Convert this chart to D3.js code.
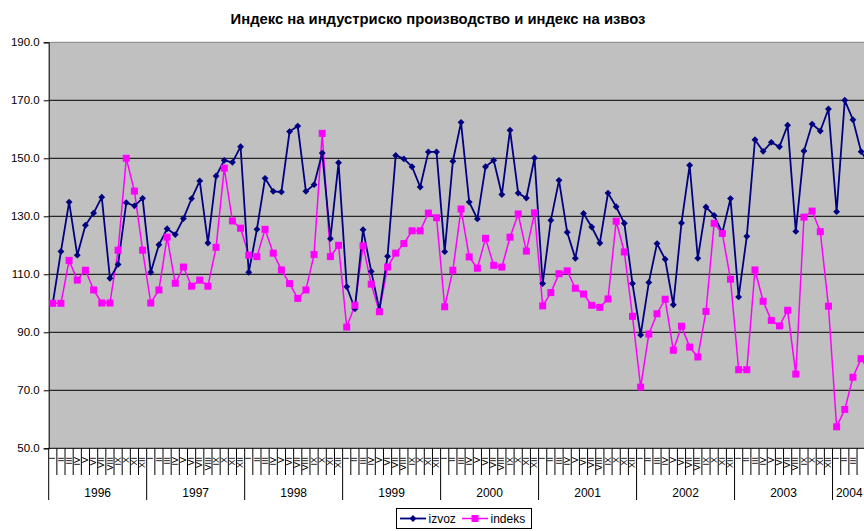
<!DOCTYPE html>
<html><head><meta charset="utf-8">
<script src="https://cdn.jsdelivr.net/npm/d3@7"></script>
<style>body{margin:0;background:#fff}svg{display:block}text{font-family:Arial,"Liberation Sans",sans-serif}</style>
</head><body><svg id="c" width="864" height="531"></svg>
<script>
const title = "Индекс на индустриско производство и индекс на извоз";
const years = ["1996","1997","1998","1999","2000","2001","2002","2003","2004"];
const monthLabels = ["I","II","III","IV","V","VI","VII","VIII","IX","X","XI","XII"];
const monthsIn2004 = 5;
const izvoz = [
 100.0,117.9,134.9,116.6,126.9,131.1,136.6,108.6,113.4,134.7,133.6,136.2,
 110.7,120.2,125.7,123.7,129.2,136.1,142.2,120.8,143.9,149.3,148.6,154.0,
 110.7,125.5,143.1,138.6,138.4,159.2,161.1,138.6,140.9,151.8,122.3,148.5,
 105.7,98.1,125.4,111.0,97.9,116.2,151.0,149.8,147.1,140.1,152.2,152.2,
 117.8,149.0,162.4,134.9,129.1,147.1,149.3,137.5,159.7,138.0,136.3,150.1,
 106.8,128.6,142.4,124.5,115.5,131.0,126.3,120.8,138.0,133.3,127.6,106.8,
 89.1,107.2,120.6,115.2,99.5,127.7,147.6,115.5,133.2,130.3,124.3,136.1,
 102.2,123.1,156.4,152.4,155.5,154.0,161.4,124.8,152.5,161.8,159.4,167.0,
 131.6,170.0,163.3,152.3,148.0
];
const indeks = [
 100.0,100.0,114.8,108.0,111.4,104.6,100.1,100.1,118.3,150.0,138.7,118.3,
 100.1,104.6,122.8,106.9,112.5,105.9,108.0,105.9,119.3,146.6,128.4,125.9,
 116.6,116.1,125.5,117.3,111.5,106.8,101.7,104.6,116.8,158.6,116.1,120.0,
 91.8,99.3,119.8,106.6,97.1,112.5,117.3,120.6,125.0,125.0,131.1,129.5,
 98.8,111.4,132.5,116.0,112.1,122.4,113.1,112.5,122.8,130.8,118.0,131.2,
 99.1,103.7,110.2,111.2,105.2,103.2,99.3,98.6,101.5,128.3,117.7,95.5,
 71.1,89.4,96.4,101.4,83.8,92.1,84.9,81.5,97.2,127.6,124.1,108.3,
 77.1,77.1,111.5,100.7,94.1,92.2,97.6,75.6,129.7,131.8,124.7,99.0,
 57.4,63.4,74.5,80.9,76.5
];
const yTicks = [50,70,90,110,130,150,170,190];

// categories
const cats = [];
years.forEach((yr,yi)=>{
  const n = yi===years.length-1 ? monthsIn2004 : 12;
  for(let m=0;m<n;m++) cats.push({key:yr+"-"+m, year:yr, m:m});
});

const W = 864;
const svg = d3.select("#c");
const monthW = 8.165;
const pLeft = 48.7, pTop = 42.3, pBottom = 448.3;
const pRight = pLeft + monthW*cats.length;
const x = d3.scaleBand().domain(cats.map(d=>d.key)).range([pLeft,pRight]).paddingInner(0).paddingOuter(0);
const y = d3.scaleLinear().domain([50,190]).range([pBottom,pTop]);

// plot background
svg.append("rect").attr("x",pLeft).attr("y",pTop).attr("width",pRight-pLeft).attr("height",pBottom-pTop).attr("fill","#c0c0c0");
svg.append("line").attr("x1",pLeft).attr("x2",pRight).attr("y1",pTop).attr("y2",pTop).attr("stroke","#808080").attr("stroke-width",1);

// grid
svg.append("g").selectAll("line").data(yTicks.filter(t=>t>50 && t<190)).join("line")
  .attr("x1",pLeft).attr("x2",pRight).attr("y1",d=>y(d)).attr("y2",d=>y(d)).attr("stroke","#000").attr("stroke-width",1);

// y axis
const ya = svg.append("g").attr("transform",`translate(${pLeft},0)`)
  .call(d3.axisLeft(y).tickValues(yTicks).tickSize(5).tickPadding(4).tickFormat(d3.format(".1f")));
ya.select(".domain").attr("stroke","#000");
ya.selectAll("text").attr("font-size","11.5px").attr("fill","#000").attr("font-family","Arial, 'Liberation Sans', sans-serif");

// x axis line
svg.append("line").attr("x1",pLeft).attr("x2",pRight).attr("y1",pBottom).attr("y2",pBottom).attr("stroke","#000");
// month ticks
svg.append("g").selectAll("line").data(cats).join("line")
  .attr("x1",d=>x(d.key)+monthW).attr("x2",d=>x(d.key)+monthW)
  .attr("y1",pBottom).attr("y2",d=>d.m===11?500:475).attr("stroke","#000").attr("stroke-width",1);
svg.append("line").attr("x1",pLeft).attr("x2",pLeft).attr("y1",pBottom).attr("y2",500).attr("stroke","#000");
// month labels rotated (only those whose band lies within the picture)
svg.append("g").selectAll("text").data(cats.filter(d=>x(d.key)+monthW<=W+1)).join("text")
  .attr("transform",d=>`translate(${x(d.key)+x.bandwidth()/2+2.6},457) rotate(-90)`)
  .attr("text-anchor","end").attr("font-size","9px").attr("fill","#000")
  .text(d=>monthLabels[d.m]);
// year labels
const yearCenters = years.map((yr,yi)=>{
  const c = cats.filter(d=>d.year===yr);
  const x0 = x(c[0].key), x1 = x(c[c.length-1].key)+monthW;
  return {year:yr, cx: yi===years.length-1 ? x0 + (W-x0)/2+1 : (x0+x1)/2};
});
svg.append("g").selectAll("text").data(yearCenters).join("text")
  .attr("x",d=>d.cx).attr("y",497).attr("text-anchor","middle").attr("font-size","12px").attr("fill","#000")
  .text(d=>d.year);

// series
const cx = i => x(cats[i].key)+x.bandwidth()/2;
const line = d3.line().x((d,i)=>cx(i)).y(d=>y(d));
svg.append("path").datum(indeks).attr("d",line).attr("fill","none").attr("stroke","#ff00ff").attr("stroke-width",1.5);
svg.append("path").datum(izvoz).attr("d",line).attr("fill","none").attr("stroke","#000080").attr("stroke-width",1.8);
// markers
svg.append("g").selectAll("path").data(izvoz).join("path")
  .attr("d",d3.symbol(d3.symbolDiamond2,30)).attr("transform",(d,i)=>`translate(${cx(i)},${y(d)})`)
  .attr("fill","#000080");
svg.append("g").selectAll("rect").data(indeks).join("rect")
  .attr("x",(d,i)=>cx(i)-3.5).attr("y",d=>y(d)-3.5).attr("width",7).attr("height",7).attr("fill","#ff00ff");

// title
svg.append("text").attr("x",438).attr("y",24).attr("text-anchor","middle").attr("font-size","14.8px").attr("font-weight","bold").attr("fill","#000").text(title);

// legend
const lg = svg.append("g");
lg.append("rect").attr("x",396.5).attr("y",508.5).attr("width",135).attr("height",20).attr("fill","#fff").attr("stroke","#000");
lg.append("line").attr("x1",400).attr("x2",426).attr("y1",518.5).attr("y2",518.5).attr("stroke","#000080").attr("stroke-width",1.8);
lg.append("path").attr("d",d3.symbol(d3.symbolDiamond2,30)).attr("transform","translate(413,518.5)").attr("fill","#000080");
lg.append("text").attr("x",428.5).attr("y",523).attr("font-size","12px").attr("fill","#000").text("izvoz");
lg.append("line").attr("x1",462).attr("x2",488).attr("y1",518.5).attr("y2",518.5).attr("stroke","#ff00ff").attr("stroke-width",1.5);
lg.append("rect").attr("x",471.5).attr("y",515).attr("width",7).attr("height",7).attr("fill","#ff00ff");
lg.append("text").attr("x",490.5).attr("y",523).attr("font-size","12px").attr("fill","#000").text("indeks");
</script></body></html>
